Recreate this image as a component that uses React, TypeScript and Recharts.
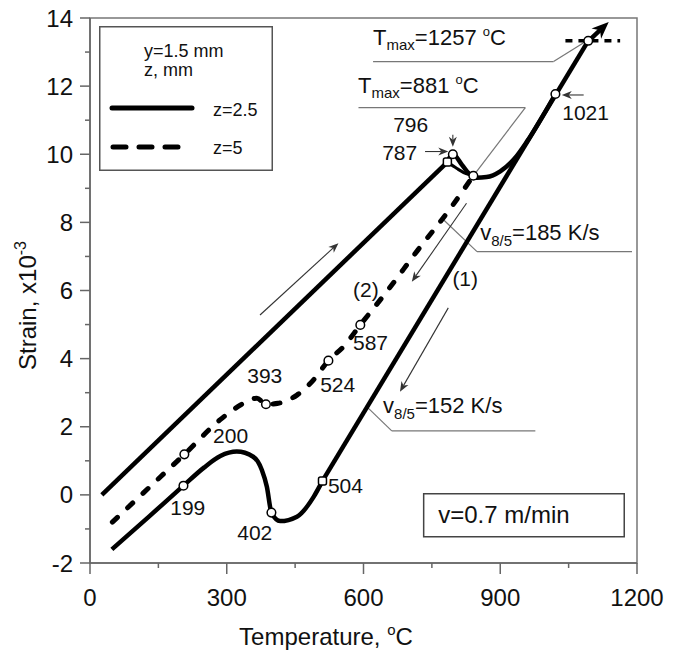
import React from 'react';
import {
  ComposedChart,
  Line,
  Scatter,
  XAxis,
  YAxis,
  ReferenceLine,
  ReferenceArea,
  Legend
} from 'recharts';

const FONT = '"Liberation Sans", Arial, Helvetica, sans-serif';

const xTicks = [0, 150, 300, 450, 600, 750, 900, 1050, 1200];
const yTicks = [-2, -1, 0, 1, 2, 3, 4, 5, 6, 7, 8, 9, 10, 11, 12, 13, 14];
const seriesNames = ['z=2.5', 'z=5'];

// z=2.5, heating branch: straight part, then the kink at 787/796
const heatStraight = [{ x: 26, y: 0 }, { x: 784, y: 9.77 }];
const heatKink = [
  { x: 784, y: 9.77 }, { x: 796, y: 10.0 }, { x: 816, y: 9.69 }, { x: 830, y: 9.45 },
  { x: 848, y: 9.31 }, { x: 870, y: 9.33 }, { x: 900, y: 9.5 }, { x: 930, y: 9.85 },
  { x: 960, y: 10.4 }, { x: 1021, y: 11.77 }
];

// z=2.5, cooling branch (1): curved low part, then straight part
const coolCurve = [
  { x: 48, y: -1.6 }, { x: 130, y: -0.63 }, { x: 205, y: 0.27 }, { x: 250, y: 0.8 },
  { x: 286, y: 1.14 }, { x: 322, y: 1.27 }, { x: 358, y: 1.12 }, { x: 377, y: 0.73 },
  { x: 388, y: 0.24 }, { x: 398, y: -0.52 }, { x: 417, y: -0.77 }, { x: 454, y: -0.64 },
  { x: 491, y: -0.05 }, { x: 510, y: 0.41 }
];
const coolStraight = [{ x: 510, y: 0.41 }, { x: 1093, y: 13.33 }];

// z=5, short heating strand near 787
const dashHeat = [
  { x: 784, y: 9.77 }, { x: 805, y: 9.58 }, { x: 825, y: 9.43 }, { x: 841, y: 9.37 }
];

// z=5, cooling branch (2)
const dashCool = [
  { x: 49, y: -0.8 }, { x: 130, y: 0.22 }, { x: 207, y: 1.19 }, { x: 285, y: 2.2 },
  { x: 322, y: 2.57 }, { x: 345, y: 2.75 }, { x: 366, y: 2.84 }, { x: 386, y: 2.66 },
  { x: 413, y: 2.69 }, { x: 454, y: 2.93 }, { x: 490, y: 3.37 }, { x: 523, y: 3.94 },
  { x: 556, y: 4.35 }, { x: 593, y: 4.99 }, { x: 650, y: 5.95 }, { x: 720, y: 7.2 },
  { x: 790, y: 8.4 }, { x: 841, y: 9.37 }
];

const markers = [
  { x: 205, y: 0.27, s: 'c' }, { x: 398, y: -0.52, s: 'c' }, { x: 510, y: 0.41, s: 's' },
  { x: 207, y: 1.19, s: 'c' }, { x: 386, y: 2.66, s: 'c' }, { x: 523, y: 3.94, s: 'c' },
  { x: 593, y: 4.99, s: 'c' }, { x: 784, y: 9.77, s: 's' }, { x: 796, y: 10.0, s: 'c' },
  { x: 841, y: 9.37, s: 'c' }, { x: 1021, y: 11.77, s: 'c' }, { x: 1093, y: 13.33, s: 'c' }
];

const notes = [
  { x: 621, y: 13.21, kind: 'tmax', text: '=1257\u00a0' },
  { x: 588, y: 11.8, kind: 'tmax', text: '=881\u00a0' },
  { x: 665, y: 10.65, kind: 'n', text: '796' },
  { x: 641, y: 9.83, kind: 'n', text: '787' },
  { x: 1036, y: 11.01, kind: 'n', text: '1021' },
  { x: 856, y: 7.48, kind: 'v', text: '=185 K/s' },
  { x: 795, y: 6.13, kind: 'n', text: '(1)' },
  { x: 577, y: 5.81, kind: 'n', text: '(2)' },
  { x: 577, y: 4.25, kind: 'n', text: '587' },
  { x: 505, y: 3.02, kind: 'n', text: '524' },
  { x: 345, y: 3.29, kind: 'n', text: '393' },
  { x: 270, y: 1.52, kind: 'n', text: '200' },
  { x: 176, y: -0.59, kind: 'n', text: '199' },
  { x: 323, y: -1.32, kind: 'n', text: '402' },
  { x: 522, y: 0.06, kind: 'n', text: '504' },
  { x: 643, y: 2.41, kind: 'v', text: '=152 K/s' },
  { x: 764, y: -0.83, kind: 'big', text: 'v=0.7 m/min' }
];

const arrows = [
  { from: [373, 5.28], to: [545, 7.39] },
  { from: [826, 8.56], to: [706, 6.26] },
  { from: [786, 5.49], to: [680, 3.03] },
  { from: [735, 10.08], to: [786, 10.08] },
  { from: [796, 10.57], to: [796, 10.22] },
  { from: [1083, 11.74], to: [1035, 11.74] }
];

const leaders = [
  [[621, 12.72], [1017, 12.72], [1090, 13.33]],
  [[589, 11.37], [955, 11.37], [843, 9.4]],
  [[772, 8.12], [849, 7.14], [1189, 7.14]],
  [[607, 2.59], [662, 1.88], [977, 1.88]]
];

const topDash = [[1043, 13.33], [1163, 13.33]];
const bigArrow = [[1094, 13.33], [1138, 13.88]];
const speedBox = { x1: 732, x2: 1172, y1: -1.23, y2: 0.03 };

const arrowShape = (head: number, half: number, width: number, color: string) => (p: any) => {
  const { x1, y1, x2, y2 } = p;
  const a = Math.atan2(y2 - y1, x2 - x1);
  const bx = x2 - head * Math.cos(a);
  const by = y2 - head * Math.sin(a);
  const nx = -Math.sin(a) * half;
  const ny = Math.cos(a) * half;
  const ix = x2 - head * 0.7 * Math.cos(a);
  const iy = y2 - head * 0.7 * Math.sin(a);
  return (
    <g>
      <line x1={x1} y1={y1} x2={ix} y2={iy} stroke={color} strokeWidth={width} />
      <polygon
        points={`${x2},${y2} ${bx + nx},${by + ny} ${ix},${iy} ${bx - nx},${by - ny}`}
        fill={color}
      />
    </g>
  );
};

const XTick = (p: any) => {
  const { x, y, payload } = p;
  const major = payload.value % 300 === 0;
  return (
    <g>
      <line x1={x} x2={x} y1={y} y2={y + (major ? 11 : 5)} stroke="#666" strokeWidth={1.5} />
      {major && (
        <text x={x} y={y + 43} textAnchor="middle" fontSize={24} fill="#111" fontFamily={FONT}>
          {payload.value}
        </text>
      )}
    </g>
  );
};

const YTick = (p: any) => {
  const { x, y, payload } = p;
  const major = payload.value % 2 === 0;
  return (
    <g>
      <line x1={x - (major ? 10 : 5)} x2={x} y1={y} y2={y} stroke="#666" strokeWidth={1.5} />
      {major && (
        <text x={x - 17} y={y + 8.5} textAnchor="end" fontSize={24} fill="#111" fontFamily={FONT}>
          {payload.value}
        </text>
      )}
    </g>
  );
};

const XTitle = (p: any) => {
  const { viewBox } = p;
  return (
    <text x={viewBox.x + 236} y={viewBox.y + 82} textAnchor="middle" fontSize={24} fill="#111" fontFamily={FONT}>
      Temperature,{'\u00a0'}
      <tspan fontSize={15} dy={-10}>o</tspan>
      <tspan dy={10}>C</tspan>
    </text>
  );
};

const YTitle = (p: any) => {
  const { viewBox } = p;
  const cx = viewBox.x + 36;
  const cy = viewBox.y + viewBox.height / 2 + 15;
  return (
    <text
      x={cx}
      y={cy}
      textAnchor="middle"
      fontSize={24}
      fill="#111"
      fontFamily={FONT}
      transform={`rotate(-90, ${cx}, ${cy})`}
    >
      Strain, x10
      <tspan fontSize={16} dy={-10}>-3</tspan>
    </text>
  );
};

const MarkerShape = (p: any) => {
  const { cx, cy, payload } = p;
  if (payload.s === 's') {
    return <rect x={cx - 4} y={cy - 4} width={8} height={8} rx={2} fill="#fff" stroke="#000" strokeWidth={1.5} />;
  }
  return <circle cx={cx} cy={cy} r={4.3} fill="#fff" stroke="#000" strokeWidth={1.5} />;
};

const NoteShape = (p: any) => {
  const { cx, cy, payload } = p;
  const common = { fill: '#111', fontFamily: FONT };
  if (payload.kind === 'tmax') {
    return (
      <text x={cx} y={cy} fontSize={22} {...common}>
        T<tspan fontSize={15} dy={5}>max</tspan>
        <tspan dy={-5}>{payload.text}</tspan>
        <tspan fontSize={13} dy={-9}>o</tspan>
        <tspan dy={9}>C</tspan>
      </text>
    );
  }
  if (payload.kind === 'v') {
    return (
      <text x={cx} y={cy} fontSize={22} {...common}>
        v<tspan fontSize={15} dy={6}>8/5</tspan>
        <tspan dy={-6}>{payload.text}</tspan>
      </text>
    );
  }
  return (
    <text x={cx} y={cy} fontSize={payload.kind === 'big' ? 24 : 21} {...common}>
      {payload.text}
    </text>
  );
};

const LegendBox = () => (
  <svg width={174} height={145} style={{ display: 'block' }}>
    <rect x={0.75} y={0.75} width={172.5} height={143.5} fill="#fff" stroke="#555" strokeWidth={1.5} />
    <text x={45} y={31} fontSize={18} fill="#111" fontFamily={FONT}>y=1.5 mm</text>
    <text x={45} y={50} fontSize={18} fill="#111" fontFamily={FONT}>z, mm</text>
    <line x1={13} x2={93} y1={82} y2={82} stroke="#000" strokeWidth={5} strokeLinecap="round" />
    <text x={114} y={90} fontSize={18} fill="#111" fontFamily={FONT}>{seriesNames[0]}</text>
    <line x1={14} x2={80} y1={121} y2={121} stroke="#000" strokeWidth={5} strokeLinecap="round" strokeDasharray="13 13" />
    <text x={114} y={128} fontSize={18} fill="#111" fontFamily={FONT}>{seriesNames[1]}</text>
  </svg>
);

const pt = (a: number[]) => ({ x: a[0], y: a[1] });

const solidLine = (data: any[], type: 'linear' | 'monotone', name: string) => (
  <Line
    name={name}
    data={data}
    dataKey="y"
    type={type}
    stroke="#000"
    strokeWidth={4.5}
    dot={false}
    isAnimationActive={false}
  />
);

const App: React.FC = () => {
  return (
    <div style={{ position: 'absolute', left: 0, top: 0, fontFamily: FONT, background: '#fff' }}>
      <ComposedChart
        width={683}
        height={655}
        margin={{ top: 18, right: 46, left: 0, bottom: 0 }}
        style={{ fontFamily: FONT }}
      >
        <XAxis
          type="number"
          dataKey="x"
          domain={[0, 1200]}
          ticks={xTicks}
          interval={0}
          tick={XTick}
          tickLine={false}
          tickSize={0}
          tickMargin={0}
          height={92}
          axisLine={{ stroke: '#666', strokeWidth: 1.5 }}
          label={XTitle}
        />
        <YAxis
          type="number"
          dataKey="y"
          domain={[-2, 14]}
          ticks={yTicks}
          interval={0}
          tick={YTick}
          tickLine={false}
          tickSize={0}
          tickMargin={0}
          width={90}
          axisLine={{ stroke: '#666', strokeWidth: 1.5 }}
          label={YTitle}
        />
        <ReferenceArea x1={0} x2={1200} y1={-2} y2={14} fill="none" stroke="#777" strokeWidth={1.5} />
        <ReferenceArea
          x1={speedBox.x1}
          x2={speedBox.x2}
          y1={speedBox.y1}
          y2={speedBox.y2}
          fill="#fff"
          fillOpacity={1}
          stroke="#444"
          strokeWidth={1.5}
        />
        {leaders.map((l, i) =>
          l.slice(1).map((q, j) => (
            <ReferenceLine
              key={`ld${i}-${j}`}
              segment={[pt(l[j]), pt(q)]}
              stroke="#777"
              strokeWidth={1.2}
            />
          ))
        )}
        {arrows.map((a, i) => (
          <ReferenceLine
            key={`ar${i}`}
            segment={[pt(a.from), pt(a.to)]}
            stroke="#333"
            shape={arrowShape(10, 4, 1.1, '#333')}
          />
        ))}
        <ReferenceLine
          segment={[pt(topDash[0]), pt(topDash[1])]}
          stroke="#000"
          strokeWidth={3.5}
          strokeDasharray="7 6"
        />
        <ReferenceLine
          segment={[pt(bigArrow[0]), pt(bigArrow[1])]}
          stroke="#000"
          shape={arrowShape(17, 7, 4.5, '#000')}
        />
        {solidLine(heatStraight, 'linear', seriesNames[0])}
        {solidLine(heatKink, 'monotone', seriesNames[0])}
        {solidLine(coolCurve, 'monotone', seriesNames[0])}
        {solidLine(coolStraight, 'linear', seriesNames[0])}
        <Line
          name={seriesNames[1]}
          data={dashHeat}
          dataKey="y"
          type="monotone"
          stroke="#000"
          strokeWidth={3}
          dot={false}
          isAnimationActive={false}
        />
        <Line
          name={seriesNames[1]}
          data={dashCool}
          dataKey="y"
          type="monotone"
          stroke="#000"
          strokeWidth={5}
          strokeDasharray="7 14"
          strokeLinecap="round"
          dot={false}
          isAnimationActive={false}
        />
        <Scatter data={markers} dataKey="y" shape={MarkerShape} isAnimationActive={false} />
        <Scatter data={notes} dataKey="y" shape={NoteShape} isAnimationActive={false} />
        <Legend
          layout="vertical"
          align="center"
          verticalAlign="middle"
          content={LegendBox}
          wrapperStyle={{ left: 99, top: 26, width: 174, height: 145 }}
        />
      </ComposedChart>
    </div>
  );
};

export default App;
